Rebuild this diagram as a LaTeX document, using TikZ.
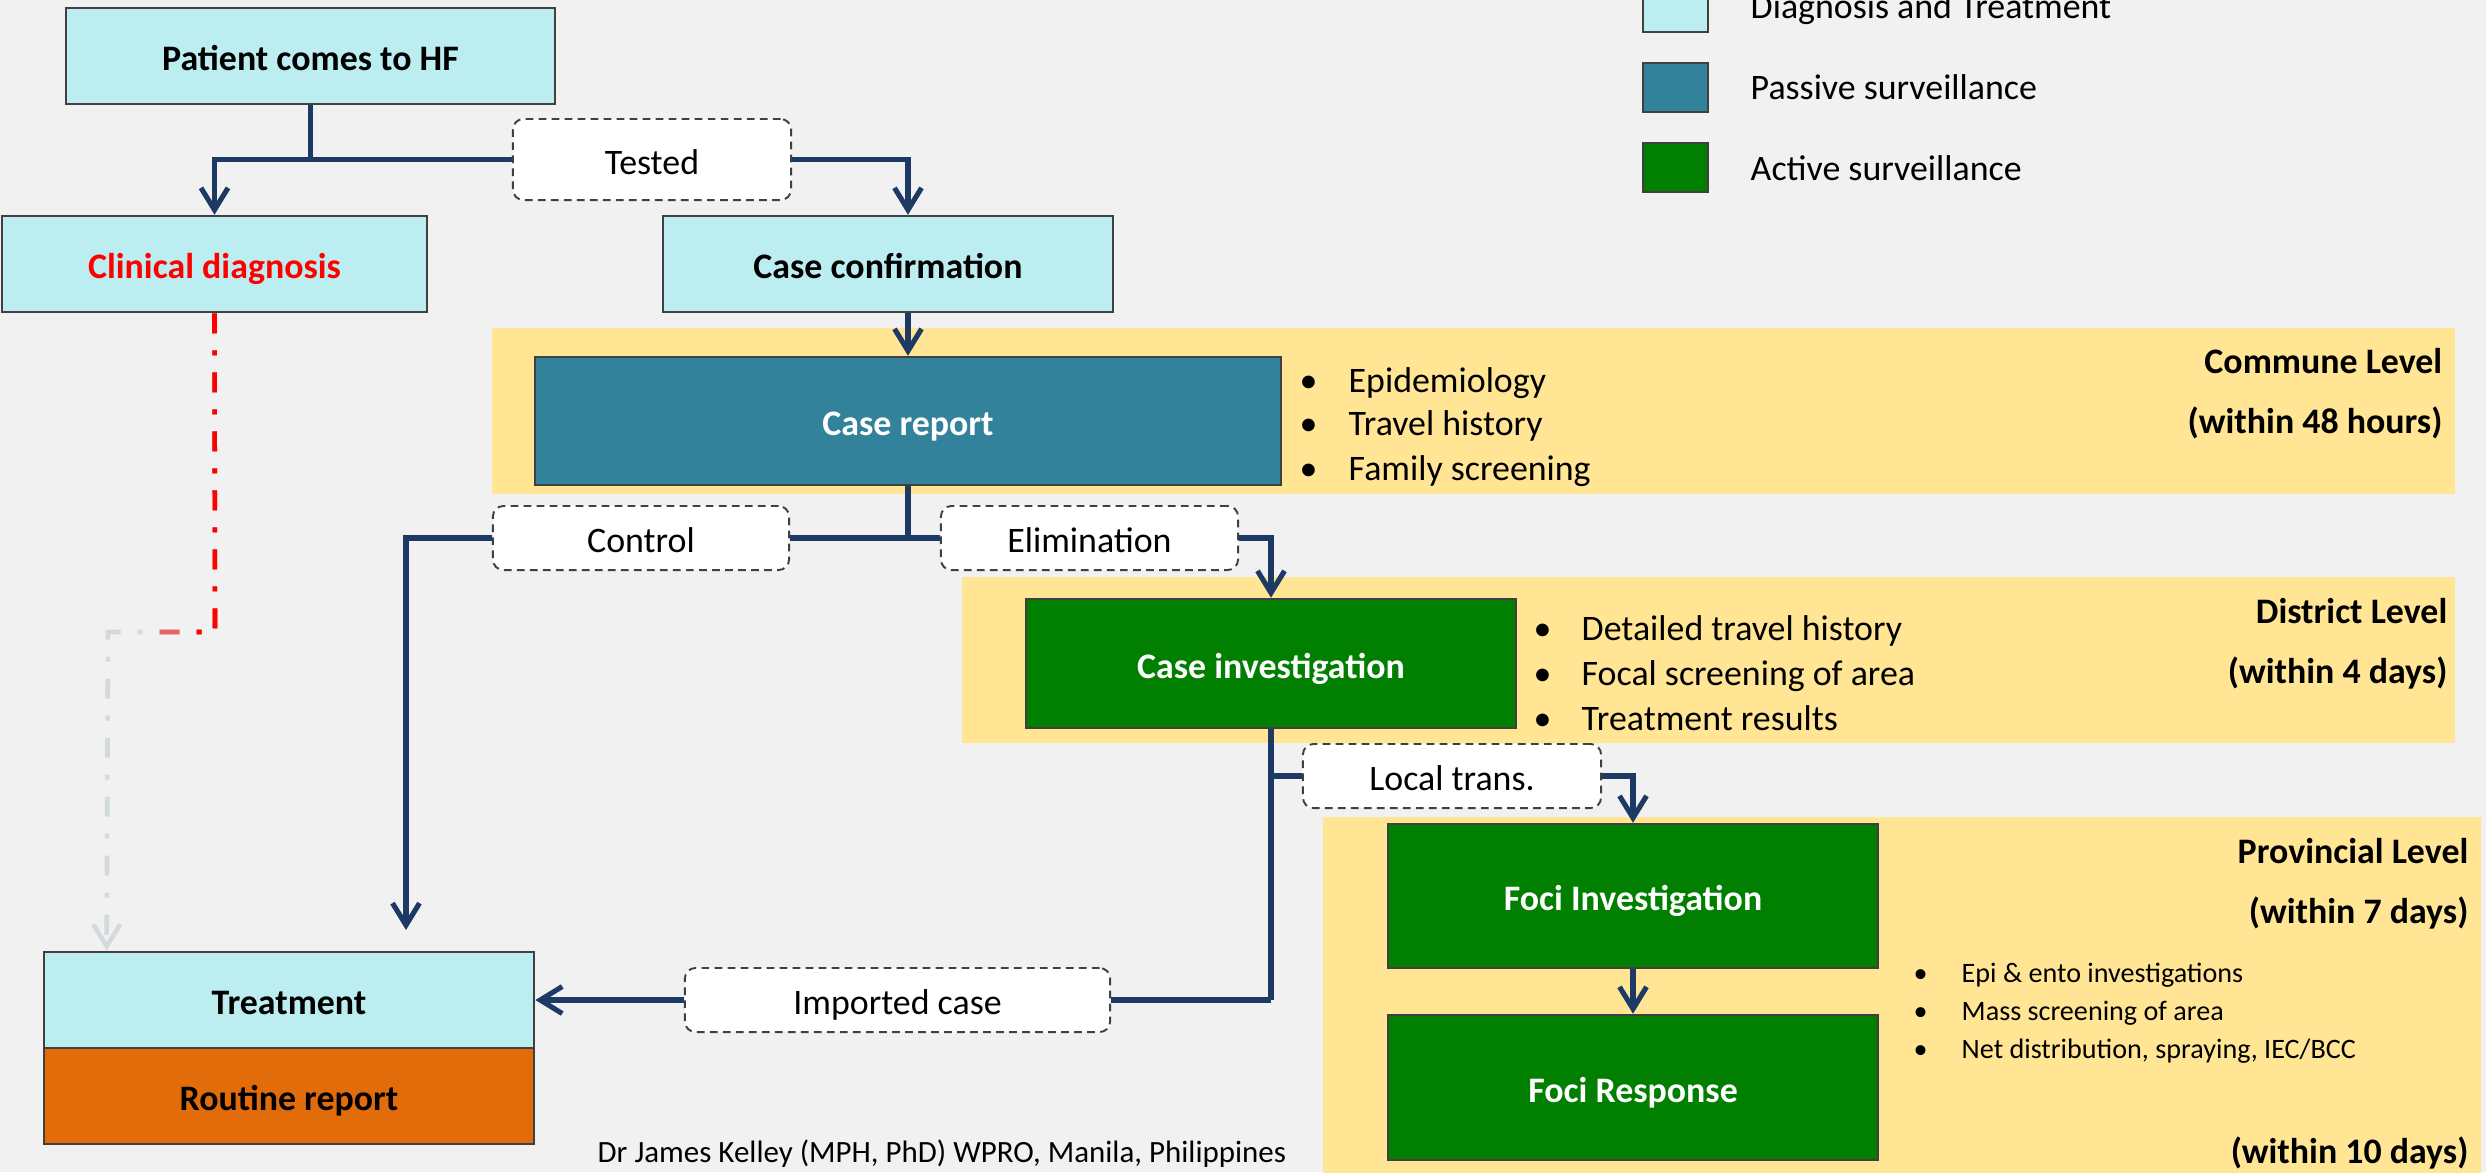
\documentclass[tikz,border=0pt]{standalone}
\usepackage{fontspec}
\setmainfont{Carlito}
\usetikzlibrary{arrows.meta,calc}
\definecolor{bgcol}{HTML}{F1F1F1}
\definecolor{cyanbox}{HTML}{BCEDF1}
\definecolor{tealbox}{HTML}{31829A}
\definecolor{greenbox}{HTML}{007F00}
\definecolor{orangebox}{HTML}{E36C0A}
\definecolor{bandcol}{HTML}{FFE594}
\definecolor{navy}{HTML}{1C3A64}
\definecolor{boxline}{HTML}{404040}
\definecolor{greyarrow}{HTML}{D2DADD}
\definecolor{redline}{HTML}{FF0000}
\newcommand\mainsz{\fontsize{10.2}{12}\selectfont}
\newcommand\smallsz{\fontsize{8}{9.6}\selectfont}
\newcommand\footsz{\fontsize{8.8}{10.5}\selectfont}
\begin{document}
\begin{tikzpicture}[x=0.01cm,y=-0.01cm,
  box/.style={draw=boxline, line width=0.7pt, inner sep=0pt, align=center, font=\mainsz\bfseries, text height=0.95em, text depth=0.11em},
  lbl/.style={draw=boxline, dash pattern=on 2.2pt off 1.5pt, line width=0.55pt, rounded corners=3pt, fill=white, inner sep=0pt, font=\mainsz, text height=0.95em, text depth=0.11em},
  conn/.style={draw=navy, line width=1.45pt},
  tip/.style={-{Straight Barb[length=0.22cm,width=0.27cm]}},
  ddash/.style={line width=1.3pt, dash pattern=on 0.2cm off 0.17cm on 0.05cm off 0.17cm},
  bul/.style={anchor=base west, inner sep=0pt, font=\mainsz},
  sbul/.style={anchor=base west, inner sep=0pt, font=\smallsz},
  lvl/.style={anchor=base east, inner sep=0pt, font=\mainsz\bfseries}
]
\clip (0,0) rectangle (2486,1172);
\useasboundingbox (0,0) rectangle (2486,1172);
\fill[bgcol] (0,0) rectangle (2486,1172);

% level bands
\fill[bandcol] (492,328) rectangle (2455,494);
\fill[bandcol] (962,577) rectangle (2455,743);
\fill[bandcol] (1323,817) rectangle (2481,1180);

% legend
\draw[boxline, line width=0.7pt, fill=cyanbox] (1643,-17) rectangle (1708,32);
\draw[boxline, line width=0.7pt, fill=tealbox] (1643,63) rectangle (1708,112);
\draw[boxline, line width=0.7pt, fill=greenbox] (1643,143) rectangle (1708,192);
\node[bul] (lg1) at (1750,18) {Diagnosis and Treatment};
\node[bul] (lg2) at (1750,99) {Passive surveillance};
\node[bul] (lg3) at (1750,180) {Active surveillance};

% main boxes
\node[box, fill=cyanbox, minimum width=4.89cm, minimum height=0.96cm] (patient) at (310.5,56) {Patient comes to HF};
\node[box, fill=cyanbox, minimum width=4.25cm, minimum height=0.96cm, text=redline] (clin) at (214.5,264) {Clinical diagnosis};
\node[box, fill=cyanbox, minimum width=4.50cm, minimum height=0.96cm] (conf) at (888,264) {Case confirmation};
\node[box, fill=tealbox, minimum width=7.46cm, minimum height=1.28cm, text=white] (report) at (908,421) {Case report};
\node[box, fill=greenbox, minimum width=4.90cm, minimum height=1.29cm, text=white] (inv) at (1271,663.5) {Case investigation};
\node[box, fill=greenbox, minimum width=4.90cm, minimum height=1.44cm, text=white] (finv) at (1633,896) {Foci Investigation};
\node[box, fill=greenbox, minimum width=4.90cm, minimum height=1.45cm, text=white] (fresp) at (1633,1087.5) {Foci Response};
\node[box, fill=cyanbox, minimum width=4.90cm, minimum height=0.96cm] (treat) at (289,1000) {Treatment};
\node[box, fill=orangebox, minimum width=4.90cm, minimum height=0.96cm] (routine) at (289,1096) {Routine report};

% label boxes
\node[lbl, minimum width=2.78cm, minimum height=0.81cm] (tested) at (652,159.5) {Tested};
\node[lbl, minimum width=2.96cm, minimum height=0.64cm] (control) at (641,538) {Control};
\node[lbl, minimum width=2.97cm, minimum height=0.64cm] (elim) at (1089.5,538) {Elimination};
\node[lbl, minimum width=2.98cm, minimum height=0.64cm] (local) at (1452,776) {Local trans.};
\node[lbl, minimum width=4.25cm, minimum height=0.64cm] (imported) at (897.5,1000) {Imported case};

% connectors
\draw[conn] (patient.south) -- (patient.south |- tested) coordinate (pj);
\draw[conn, tip] (pj) -| (clin.north);
\draw[conn] (pj) -- (tested.west);
\draw[conn, tip] (tested.east) -| ($(conf.north)+(20,0)$);
\draw[conn, tip] ($(conf.south)+(20,0)$) -- (report.north);
\draw[conn] (report.south) -- (report.south |- control) coordinate (rj);
\draw[conn] (rj) -- (control.east);
\draw[conn] (rj) -- (elim.west);
\coordinate (ctrlend) at (406,930);
\draw[conn, tip] (control.west) -| (ctrlend);
\draw[conn, tip] (elim.east) -| (inv.north);
\draw[conn] (inv.south) -- (inv.south |- imported) coordinate (ij);
\draw[conn] (ij) -- (imported.east);
\draw[conn, tip] (imported.west) -- (treat.east);
\draw[conn] (inv.south |- local) -- (local.west);
\draw[conn, tip] (local.east) -| (finv.north);
\draw[conn, tip] (finv.south) -- (fresp.north);

% clinical diagnosis dash-dot connector (red fading to grey)
\coordinate (rturn) at (215,632);
\coordinate (gturn) at (108,632);
\coordinate (gend) at ($(treat.north west)+(64,0)$);
\draw[ddash, greyarrow, -{Straight Barb[length=0.22cm,width=0.27cm]}] (clin.south) -- (rturn) -- (gturn) -- (gend);
\draw[ddash, red!55!greyarrow] (clin.south) -- (rturn) -- (155,632);
\draw[ddash, redline] (clin.south) -- (rturn) -- (190,632);

% bullets: commune
\node[bul] (cb1) at (1299,392) {•};
\node[bul] (ct1) at (1348,392) {Epidemiology};
\node[bul] (cb2) at (1299,435) {•};
\node[bul] (ct2) at (1348,435) {Travel history};
\node[bul] (cb3) at (1299,480) {•};
\node[bul] (ct3) at (1348,480) {Family screening};

% bullets: district
\node[bul] (db1) at (1533,640) {•};
\node[bul] (dt1) at (1581,640) {Detailed travel history};
\node[bul] (db2) at (1533,685) {•};
\node[bul] (dt2) at (1581,685) {Focal screening of area};
\node[bul] (db3) at (1533,730) {•};
\node[bul] (dt3) at (1581,730) {Treatment results};

% bullets: provincial
\node[sbul] (pb1) at (1913,982) {•};
\node[sbul] (pt1) at (1961,982) {Epi \& ento investigations};
\node[sbul] (pb2) at (1913,1020) {•};
\node[sbul] (pt2) at (1961,1020) {Mass screening of area};
\node[sbul] (pb3) at (1913,1058) {•};
\node[sbul] (pt3) at (1961,1058) {Net distribution, spraying, IEC/BCC};

% level labels
\node[lvl] (cl1) at (2443,373) {Commune Level};
\node[lvl] (cl2) at (2443,433) {(within 48 hours)};
\node[lvl] (dl1) at (2448,623) {District Level};
\node[lvl] (dl2) at (2448,683) {(within 4 days)};
\node[lvl] (pl1) at (2469,863) {Provincial Level};
\node[lvl] (pl2) at (2469,923) {(within 7 days)};
\node[lvl] (pl3) at (2469,1163) {(within 10 days)};

% footer
\node[anchor=base west, inner sep=0pt, font=\footsz] (foot) at (597,1162) {Dr James Kelley (MPH, PhD) WPRO, Manila, Philippines};
\end{tikzpicture}
\end{document}
